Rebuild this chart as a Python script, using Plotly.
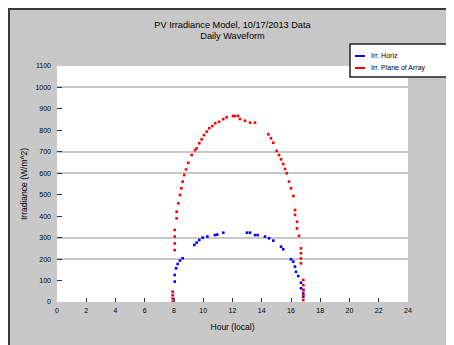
import plotly.graph_objects as go

# ---- data ----
poa_hours = [7.91, 7.91, 7.91, 7.91, 8.05, 8.05, 8.05, 8.05, 8.18, 8.18, 8.29, 8.41, 8.50, 8.59, 8.70, 8.82,
             8.98, 9.21, 9.44, 9.55, 9.73, 9.89, 10.05, 10.24, 10.41, 10.62, 10.82, 11.08, 11.37,
             11.60, 12.03, 12.17, 12.38, 12.51, 12.85, 13.20, 13.54, 14.45, 14.63, 14.79, 15.02,
             15.18, 15.32, 15.47, 15.59, 15.71, 15.86, 16.00, 16.16, 16.27, 16.27, 16.41, 16.41,
             16.55, 16.68, 16.68, 16.68, 16.68, 16.84, 16.84, 16.84, 16.84, 16.84]
poa_values = [1, 16, 32, 48, 242, 273, 305, 336, 390, 421, 460, 499, 530, 561, 592, 618,
              649, 685, 708, 716, 740, 758, 778, 794, 810, 820, 833, 840, 852,
              861, 867, 867, 867, 853, 845, 836, 836, 782, 763, 742, 704,
              685, 665, 643, 620, 600, 561, 530, 494, 429, 406, 374, 343,
              308, 250, 227, 203, 180, 103, 79, 56, 32, 9]

ghi_hours = [8.05, 8.05, 8.14, 8.25, 8.41, 8.59, 9.39, 9.55, 9.73, 9.96, 10.28, 10.80, 10.96, 11.37,
             12.99, 13.20, 13.54, 13.72, 14.22, 14.50, 14.79, 15.32, 15.47, 16.00, 16.16, 16.27,
             16.34, 16.50, 16.68, 16.68, 16.84, 16.84, 16.84]
ghi_values = [95, 126, 157, 177, 193, 204, 266, 277, 289, 300, 305, 312, 314, 323,
              323, 323, 312, 312, 305, 297, 286, 258, 246, 199, 188, 165,
              141, 121, 90, 64, 56, 40, 25]

x_ticks = [0, 2, 4, 6, 8, 10, 12, 14, 16, 18, 20, 22, 24]
y_ticks = [0, 100, 200, 300, 400, 500, 600, 700, 800, 900, 1000, 1100]
grid_values = [0, 200, 300, 600, 700, 1000, 1100]

title_text = "PV Irradiance Model, 10/17/2013 Data<br>Daily Waveform"
series_names = ["Irr. Horiz", "Irr. Plane of Array"]
series_colors = ["#0000ff", "#ff0000"]

W, H = 454, 345
L, T = 49, 58
pw, ph = 351, 236
R, B = W - L - pw, H - T - ph

def px_x(p):
    return (p - L) / pw

def px_y(p):
    return (H - B - p) / ph

fig = go.Figure()
fig.add_trace(go.Scatter(x=ghi_hours, y=ghi_values, mode="markers", name=series_names[0], showlegend=False,
                         marker=dict(color=series_colors[0], size=2.6, symbol="square", line=dict(width=0))))
fig.add_trace(go.Scatter(x=poa_hours, y=poa_values, mode="markers", name=series_names[1], showlegend=False,
                         marker=dict(color=series_colors[1], size=2.6, symbol="square", line=dict(width=0))))
# dummy trace to activate the grid axis
fig.add_trace(go.Scatter(x=[None], y=[None], yaxis="y2", showlegend=False, hoverinfo="skip"))

# custom legend (box, swatches, labels)
leg_shapes = [dict(type="rect", xref="paper", yref="paper",
                   x0=px_x(342), x1=px_x(480), y0=px_y(69), y1=px_y(36),
                   fillcolor="white", line=dict(color="#222", width=1.5))]
leg_annots = []
for i, (name, col) in enumerate(zip(series_names, series_colors)):
    yy = 48 + 12 * i
    leg_shapes.append(dict(type="line", xref="paper", yref="paper",
                           x0=px_x(347), x1=px_x(357), y0=px_y(yy), y1=px_y(yy),
                           line=dict(color=col, width=2)))
    leg_annots.append(dict(text=name, xref="paper", yref="paper", x=px_x(361), y=px_y(yy),
                           xanchor="left", yanchor="middle", showarrow=False,
                           font=dict(size=7, color="black")))

fig.update_layout(
    width=W, height=H,
    margin=dict(l=L, r=R, t=T, b=B, autoexpand=False),
    paper_bgcolor="#c8c8c8",
    plot_bgcolor="white",
    font=dict(family="Liberation Sans, Arial, sans-serif", color="black", size=7),
    showlegend=False,
    title=dict(text=title_text, x=(L + pw / 2) / W, xanchor="center",
               y=1 - 19.5 / H, yanchor="middle", yref="container",
               font=dict(size=9.2, color="black")),
    shapes=[
        dict(type="rect", xref="paper", yref="paper", layer="below",
             x0=px_x(1), x1=px_x(500), y0=px_y(400), y1=px_y(1),
             fillcolor="rgba(0,0,0,0)", line=dict(color="#3a3a3a", width=2)),
    ] + leg_shapes,
    annotations=leg_annots,
    xaxis=dict(range=[0, 24], tickvals=x_ticks, ticktext=[str(v) for v in x_ticks],
               ticks="inside", ticklen=4, tickcolor="#333", showgrid=False, zeroline=False,
               showline=False, tickfont=dict(size=7), ticklabelstandoff=3,
               title=dict(text="Hour (local)", font=dict(size=8.5), standoff=11)),
    yaxis=dict(range=[0, 1100], tickvals=y_ticks, ticktext=[str(v) for v in y_ticks],
               ticks="inside", ticklen=5, tickcolor="#333", showgrid=False, zeroline=False,
               showline=False, tickfont=dict(size=7), ticklabelstandoff=5,
               title=dict(text="Irradiance (W/m^2)", font=dict(size=8.5), standoff=6)),
    yaxis2=dict(range=[0, 1100], overlaying="y", tickvals=grid_values, showticklabels=False,
                showgrid=True, gridcolor="#c8c8c8", gridwidth=2, zeroline=False, ticks=""),
)

fig.write_html("out.html")
